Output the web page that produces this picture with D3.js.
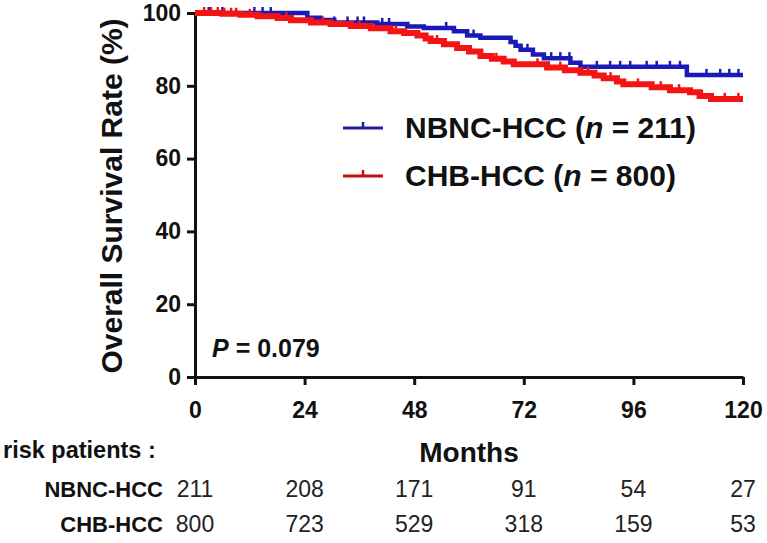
<!DOCTYPE html>
<html>
  <head>
    <title>Overall survival NBNC-HCC vs CHB-HCC</title>
    <style>
      body {
        margin: 0;
        padding: 0;
        overflow: hidden;
        background: #fff;
      }
      svg {
        display: block;
        font-family: 'Liberation Sans', Arial, Helvetica, sans-serif;
      }
    </style>
    <script src="https://unpkg.com/d3@7.8.5/dist/d3.min.js"></script>
  </head>
  <body>
    <svg width="767" height="543"></svg>
    <script>
      // Datos (meses, supervivencia %)
      const nbncTime = [0, 24.6, 27.5, 30.5, 39.9, 46.5, 50.1, 56.7, 59.6, 62.5, 69.1, 70.2, 71.3, 74, 76.4, 82.2, 84.4, 107.7, 120];
      const nbncSurv = [100, 98.7, 98.1, 97.4, 97, 96.3, 95.9, 95, 93.8, 93.2, 92, 91, 89.9, 88.6, 87.6, 86.3, 85.2, 83, 83];
      const nbncCensor = [3, 6, 13, 14.8, 16.6, 24.6, 30.5, 33.4, 35.6, 37, 41, 42.5, 55, 61, 72.8, 78, 80, 82, 84.4, 88, 90.9, 93.1, 95.3, 98.9, 101.1, 104, 106.2, 112, 115, 117, 119];

      const chbTime = [0, 6, 10, 13.7, 18.1, 21, 25.4, 29.7, 34.1, 38.5, 42.8, 45.8, 48.7, 50.5, 51.6, 54.5, 57.4, 60, 62.5, 65, 67.6, 69.8, 77.1, 81, 84.4, 87.5, 89.5, 92.4, 93.8, 100, 104, 108.4, 110.5, 113, 120];
      const chbSurv = [100, 99.8, 99.5, 99.1, 98.6, 98, 97.4, 97, 96.4, 95.8, 95, 94.5, 93.8, 93, 92.3, 91.4, 90.4, 89.4, 88.2, 87.4, 86.7, 85.9, 85, 84.3, 83.6, 82.8, 82.1, 81.2, 80.4, 79.6, 78.8, 78.2, 77.2, 76.4, 76.4];
      const chbCensor = [2, 3.5, 5, 6.4, 7.9, 9, 12, 20, 28, 36, 44, 53, 66, 75, 80, 86, 91, 97, 102, 106, 111, 116, 119];

      const groups = ['NBNC-HCC', 'CHB-HCC'];
      const groupN = [211, 800];
      const riskMonths = [0, 24, 48, 72, 96, 120];
      const riskNbnc = [211, 208, 171, 91, 54, 27];
      const riskChb = [800, 723, 529, 318, 159, 53];
      const xTicks = [0, 24, 48, 72, 96, 120];
      const yTicks = [0, 20, 40, 60, 80, 100];

      const svg = d3.select('svg');
      svg.append('rect').attr('width', 767).attr('height', 543).attr('fill', '#fff');

      const x = d3.scaleLinear().domain([0, 120]).range([195, 743]);
      const y = d3.scaleLinear().domain([0, 100]).range([377, 13]);

      // Ejes
      const yAxis = svg.append('g')
        .attr('transform', `translate(${x(0)},0)`)
        .call(d3.axisLeft(y).tickValues(yTicks).tickSize(8).tickSizeOuter(0).tickPadding(6));
      const xAxis = svg.append('g')
        .attr('transform', `translate(0,${y(0)})`)
        .call(d3.axisBottom(x).tickValues(xTicks).tickSize(8).tickSizeOuter(0).tickPadding(17));

      [yAxis, xAxis].forEach((g) => {
        g.select('.domain').attr('stroke', '#111').attr('stroke-width', 3);
        g.selectAll('.tick line').attr('stroke', '#111').attr('stroke-width', 3);
        g.selectAll('.tick text')
          .attr('fill', '#111')
          .style('font-size', '23px')
          .style('font-weight', 'bold')
          .style('font-family', "'Liberation Sans', Arial, sans-serif");
      });

      // Título eje Y
      svg.append('text')
        .attr('transform', 'translate(122,196) rotate(-90)')
        .attr('text-anchor', 'middle')
        .style('font-size', '30px')
        .style('font-weight', 'bold')
        .attr('fill', '#111')
        .text('Overall Survival Rate (%)');

      // Título eje X
      svg.append('text')
        .attr('x', 469).attr('y', 462)
        .attr('text-anchor', 'middle')
        .style('font-size', '28px')
        .style('font-weight', 'bold')
        .attr('fill', '#111')
        .text('Months');

      // Curvas Kaplan-Meier
      const series = [
        { time: nbncTime, surv: nbncSurv, censor: nbncCensor, color: '#1a1ab8', width: 4.5 },
        { time: chbTime, surv: chbSurv, censor: chbCensor, color: '#f41414', width: 6 }
      ];

      const stepLine = d3.line()
        .x((d) => x(d[0]))
        .y((d) => y(d[1]))
        .curve(d3.curveStepAfter);

      const survAt = (s, t) => {
        const i = d3.bisectRight(s.time, t) - 1;
        return s.surv[Math.max(0, i)];
      };

      // Dibujar primero la azul y luego la roja encima (como en la figura)
      series.forEach((s) => {
        const pts = s.time.map((t, i) => [t, s.surv[i]]);
        svg.append('path')
          .attr('d', stepLine(pts))
          .attr('fill', 'none')
          .attr('stroke', s.color)
          .attr('stroke-width', s.width);
        svg.append('g')
          .selectAll('line')
          .data(s.censor)
          .enter()
          .append('line')
          .attr('x1', (t) => x(t))
          .attr('x2', (t) => x(t))
          .attr('y1', (t) => y(survAt(s, t)))
          .attr('y2', (t) => y(survAt(s, t)) - 6)
          .attr('stroke', s.color)
          .attr('stroke-width', 2.5);
      });

      // Leyenda
      const legendColors = ['#1f1fa0', '#c01010'];
      const legendY = [128, 176];
      groups.forEach((g, i) => {
        const lg = svg.append('g');
        lg.append('line')
          .attr('x1', 343).attr('x2', 383)
          .attr('y1', legendY[i]).attr('y2', legendY[i])
          .attr('stroke', legendColors[i]).attr('stroke-width', 3);
        lg.append('line')
          .attr('x1', 363).attr('x2', 363)
          .attr('y1', legendY[i]).attr('y2', legendY[i] - 6)
          .attr('stroke', legendColors[i]).attr('stroke-width', 2.5);
        const t = lg.append('text')
          .attr('x', 405).attr('y', legendY[i] + 10)
          .style('font-size', '30px')
          .style('font-weight', 'bold')
          .attr('fill', '#111');
        t.append('tspan').text(`${g} (`);
        t.append('tspan').style('font-style', 'italic').text('n');
        t.append('tspan').text(` = ${groupN[i]})`);
      });

      // Valor P
      const p = svg.append('text')
        .attr('x', 212).attr('y', 357)
        .style('font-size', '25px')
        .style('font-weight', 'bold')
        .attr('fill', '#111');
      p.append('tspan').style('font-style', 'italic').text('P');
      p.append('tspan').text(' = 0.079');

      // Tabla de pacientes en riesgo
      svg.append('text')
        .attr('x', 3).attr('y', 458)
        .style('font-size', '23.5px')
        .style('font-weight', 'bold')
        .attr('fill', '#111')
        .text('risk patients :');

      const riskRows = [riskNbnc, riskChb];
      const rowY = [497, 532];
      riskRows.forEach((row, r) => {
        svg.append('text')
          .attr('x', 163).attr('y', rowY[r])
          .attr('text-anchor', 'end')
          .style('font-size', '22px')
          .style('font-weight', 'bold')
          .attr('fill', '#111')
          .text(groups[r]);
        svg.append('g')
          .selectAll('text')
          .data(row)
          .enter()
          .append('text')
          .attr('x', (d, i) => x(riskMonths[i]))
          .attr('y', rowY[r])
          .attr('text-anchor', 'middle')
          .style('font-size', '23px')
          .attr('fill', '#222')
          .text((d) => d);
      });
    </script>
  </body>
</html>
